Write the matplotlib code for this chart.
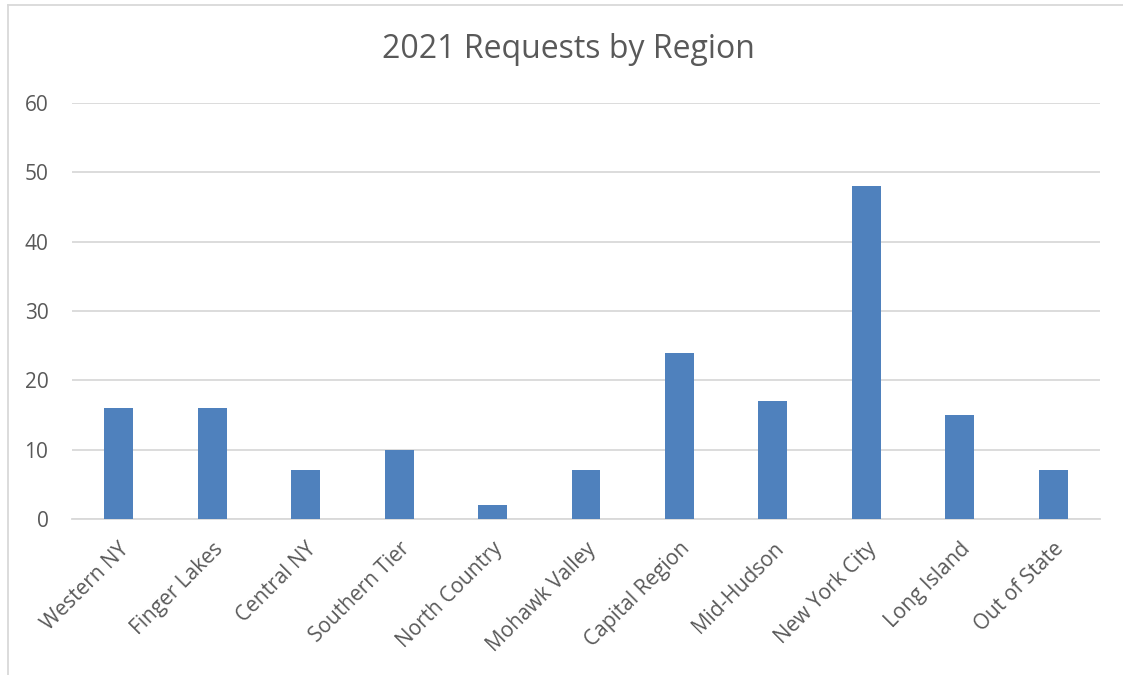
import matplotlib
matplotlib.use("Agg")
import matplotlib.pyplot as plt
from matplotlib.lines import Line2D

categories = ["Western NY", "Finger Lakes", "Central NY", "Southern Tier", "North Country",
              "Mohawk Valley", "Capital Region", "Mid-Hudson", "New York City", "Long Island",
              "Out of State"]
values = [16, 16, 7, 10, 2, 7, 24, 17, 48, 15, 7]
yticks = [0, 10, 20, 30, 40, 50, 60]
title = "2021 Requests by Region"

plt.rcParams['font.family'] = ['Open Sans', 'DejaVu Sans']
txt = '#595959'
grid = '#d9d9d9'

fig = plt.figure(figsize=(11.23, 6.75), dpi=100)
ax = fig.add_axes([72/1123, 1-519/675, (1100-72)/1123, (519-103)/675])

x = range(len(categories))
ax.bar(x, values, width=0.31, color='#4f81bd', zorder=3)
ax.set_xlim(-0.5, len(categories)-0.5)
ax.set_ylim(0, 60)
ax.set_yticks(yticks)
ax.set_yticklabels([str(v) for v in yticks], color=txt, fontsize=15)
ax.set_xticks(list(x))
ax.set_xticklabels(categories, rotation=45, ha='right', rotation_mode='anchor',
                   color=txt, fontsize=15)
ax.tick_params(axis='both', length=0)
ax.tick_params(axis='y', pad=17)
ax.tick_params(axis='x', pad=14)
ax.grid(axis='y', color=grid, linewidth=1.3, zorder=0)
for s in ['top', 'right', 'left']:
    ax.spines[s].set_visible(False)
ax.spines['bottom'].set_color(grid)
ax.spines['bottom'].set_linewidth(1.3)

fig.text(568/1123, 1-49/675, title, ha='center', va='center', fontsize=23, color=txt)

# chart border (top and left visible)
fig.add_artist(Line2D([8/1123, 1], [1-4.5/675, 1-4.5/675], transform=fig.transFigure,
                      color='#d9d9d9', linewidth=1.3))
fig.add_artist(Line2D([8/1123, 8/1123], [0, 1-4.5/675], transform=fig.transFigure,
                      color='#d9d9d9', linewidth=1.3))

fig.savefig('out.png', dpi=100)
